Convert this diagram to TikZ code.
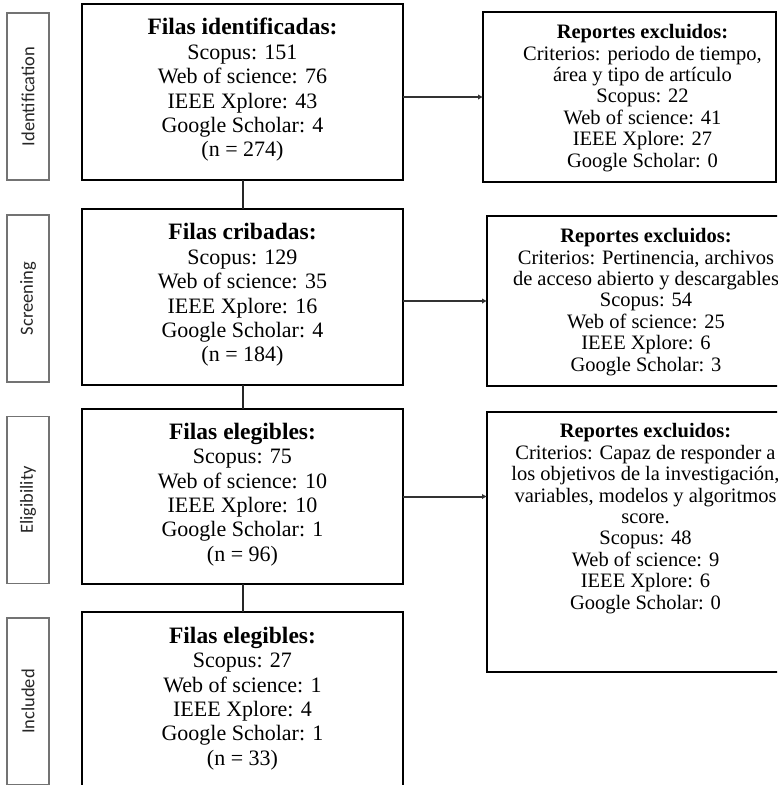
\documentclass[tikz,border=0pt]{standalone}
\usepackage{fontspec}
\setmainfont{Liberation Serif}
\newfontfamily\labfont{Carlito}
\usetikzlibrary{arrows.meta}
\begin{document}
\begin{tikzpicture}[x=1pt,y=-1pt,
  mainbox/.style={draw=black, line width=2pt, minimum width=321pt, inner sep=0pt, outer sep=0pt},
  sidebox/.style={draw=black, line width=2pt, minimum width=293pt, inner sep=0pt, outer sep=0pt},
  labbox/.style={draw=black!55, line width=1.1pt, minimum width=42pt, minimum height=167pt, inner sep=0pt, outer sep=0pt},
  labtext/.style={rotate=90, font=\labfont\fontsize{18.5}{20}\selectfont, text=black!85},
  maintext/.style={align=center, inner sep=0pt, font=\fontsize{22}{24.4}\selectfont},
  sidetext/.style={align=center, inner sep=0pt, font=\fontsize{20.5}{21.4}\selectfont},
  link/.style={line width=2pt, draw=black!85},
  arr/.style={line width=2pt, draw=black!80, -{Latex[length=5pt,width=5.5pt]}}
]
\clip (0,0) rectangle (777,785);
\fill[white] (0,0) rectangle (777,785);

% stage labels
\node[labbox] (l1) at (28,96.5) {};
\node[labbox] (l2) at (28,298.5) {};
\node[labbox] (l3) at (28,500) {};
\node[labbox] (l4) at (28,701.5) {};
\node[labtext] (t1) at (l1) {Identification};
\node[labtext] (t2) at (l2) {Screening};
\node[labtext] (t3) at (l3) {Eligibility};
\node[labtext] (t4) at (l4) {Included};

% main boxes
\node[mainbox, minimum height=176pt] (b1) at (242.5,92) {};
\node[mainbox, minimum height=176pt] (b2) at (242.5,297) {};
\node[mainbox, minimum height=175pt] (b3) at (242.5,496.5) {};
\node[mainbox, minimum height=176pt] (b4) at (242.5,700) {};

\node[maintext] (m1) at (242.5,90) {{\fontsize{23.5}{24.4}\selectfont\bfseries Filas identificadas:}\\Scopus: 151\\Web of science: 76\\IEEE Xplore: 43\\Google Scholar: 4\\(n = 274)};
\node[maintext] (m2) at (242.5,295) {{\fontsize{23.5}{24.4}\selectfont\bfseries Filas cribadas:}\\Scopus: 129\\Web of science: 35\\IEEE Xplore: 16\\Google Scholar: 4\\(n = 184)};
\node[maintext] (m3) at (242.5,494.5) {{\fontsize{23.5}{24.4}\selectfont\bfseries Filas elegibles:}\\Scopus: 75\\Web of science: 10\\IEEE Xplore: 10\\Google Scholar: 1\\(n = 96)};
\node[maintext] (m4) at (242.5,698.5) {{\fontsize{23.5}{24.4}\selectfont\bfseries Filas elegibles:}\\Scopus: 27\\Web of science: 1\\IEEE Xplore: 4\\Google Scholar: 1\\(n = 33)};

% side boxes
\node[sidebox, minimum height=170pt] (r1) at (629.5,97) {};
\node[sidebox, minimum height=170pt] (r2) at (633.5,301) {};
\node[sidebox, minimum height=260pt] (r3) at (633.5,542) {};

\node[sidetext] (s1) at (642.5,98) {{\bfseries Reportes excluidos:}\\Criterios: periodo de tiempo,\\área y tipo de artículo\\Scopus: 22\\Web of science: 41\\IEEE Xplore: 27\\Google Scholar: 0};
\node[sidetext] (s2) at (646,302) {{\bfseries Reportes excluidos:}\\Criterios: Pertinencia, archivos\\de acceso abierto y descargables\\Scopus: 54\\Web of science: 25\\IEEE Xplore: 6\\Google Scholar: 3};
\node[sidetext] (s3) at (645.5,518.5) {{\bfseries Reportes excluidos:}\\Criterios: Capaz de responder a\\los objetivos de la investigación,\\variables, modelos y algoritmos\\score.\\Scopus: 48\\Web of science: 9\\IEEE Xplore: 6\\Google Scholar: 0};

% connectors
\draw[link] (b1.south) -- (b2.north);
\draw[link] (b2.south) -- (b3.north);
\draw[link] (b3.south) -- (b4.north);
\draw[arr] (b1.east |- r1.west) -- (r1.west);
\draw[arr] (b2.east |- r2.west) -- (r2.west);
\draw[arr] (b3.east) -- (b3.east -| r3.west);
\end{tikzpicture}
\end{document}
